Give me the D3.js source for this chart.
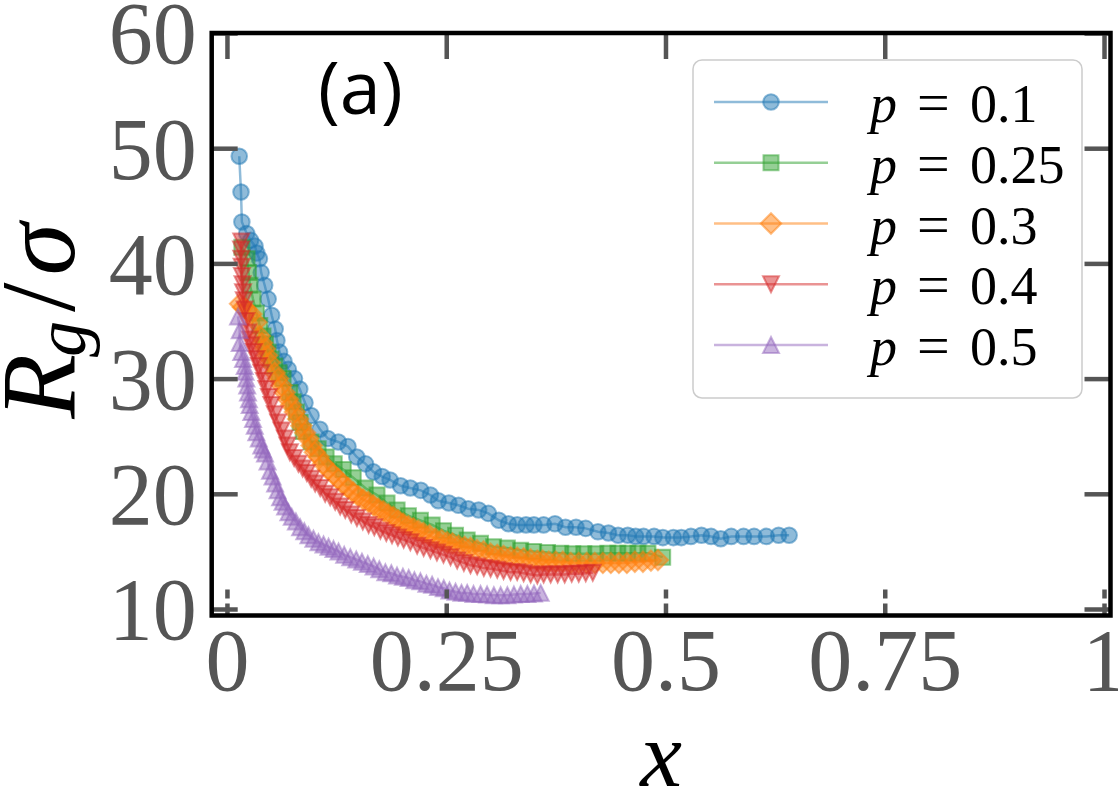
<!DOCTYPE html>
<html>
<head>
<meta charset="utf-8">
<script src="https://cdn.jsdelivr.net/npm/d3@7"></script>
<style>
  html, body { margin: 0; padding: 0; background: #fff; }
  svg { display: block; }
</style>
</head>
<body>
<svg id="chart" width="1118" height="790"></svg>
<script>
// ---------------- data ----------------
const xTickVals = [0, 0.25, 0.5, 0.75, 1];
const xTickLabels = ["0", "0.25", "0.5", "0.75", "1"];
const yTickVals = [10, 20, 30, 40, 50, 60];
const yTickLabels = ["10", "20", "30", "40", "50", "60"];

const seriesLabels = ["0.1", "0.25", "0.3", "0.4", "0.5"];

const xP01 = [0.014,0.016,0.017,0.0225,0.027,0.032,0.034,0.037,0.039,0.043,0.047,0.051,0.055,0.057,0.060,0.065,0.070,0.077,0.083,0.089,0.096,0.106,0.115,0.127,0.138,0.148,0.158,0.167,0.177,0.186,0.198,0.209,0.221,0.232,0.241,0.253,0.264,0.275,0.287,0.298,0.310,0.321,0.331,0.341,0.350,0.361,0.374,0.386,0.398,0.409,0.423,0.435,0.446,0.457,0.466,0.475,0.487,0.497,0.509,0.518,0.529,0.541,0.552,0.563,0.575,0.589,0.601,0.615,0.629,0.641];
const yP01 = [49.3,46.2,43.6,42.6,42.0,41.5,40.9,40.4,39.2,38.1,36.9,35.5,34.3,33.3,32.3,31.5,30.8,30.0,29.1,27.9,26.8,25.6,24.8,24.5,24.1,23.2,22.6,21.9,21.5,21.2,20.7,20.5,20.3,19.9,19.4,19.2,19.0,18.7,18.6,18.3,17.7,17.4,17.3,17.3,17.3,17.3,17.4,17.1,17.1,17.0,16.7,16.6,16.4,16.4,16.3,16.3,16.3,16.2,16.2,16.2,16.3,16.4,16.3,16.1,16.3,16.3,16.3,16.3,16.4,16.4];

const xP025 = [0.017,0.0229,0.0246,0.0263,0.0297,0.0335,0.0374,0.0411,0.044,0.0469,0.0503,0.0545,0.0594,0.064,0.0717,0.0754,0.0792,0.0834,0.0869,0.096,0.104,0.1131,0.1223,0.1326,0.144,0.1577,0.1711,0.1825,0.194,0.2069,0.2206,0.234,0.2469,0.2606,0.2739,0.2891,0.304,0.3197,0.3349,0.3497,0.3654,0.3806,0.3943,0.4069,0.4206,0.4343,0.4457,0.4571,0.4686,0.48,0.4968];
const yP025 = [41.4,40.4,39.2,38.1,36.9,35.7,34.6,33.7,33.0,32.3,31.7,31.1,30.5,30.0,28.8,28.0,27.1,26.2,25.4,24.5,23.9,23.2,22.6,22.1,21.4,20.5,19.9,19.2,18.6,18.1,17.7,17.3,16.8,16.4,16.0,15.7,15.4,15.3,15.1,15.0,14.9,14.85,14.8,14.8,14.8,14.85,14.85,14.85,14.85,14.85,14.5];

const xP03 = [0.0149,0.0183,0.0221,0.0278,0.0335,0.0374,0.04,0.0431,0.0457,0.0488,0.0545,0.0583,0.0621,0.0657,0.0697,0.0731,0.0774,0.0811,0.0849,0.0891,0.0926,0.0966,0.1002,0.1046,0.1097,0.1154,0.1211,0.1269,0.1326,0.1383,0.144,0.1497,0.1554,0.1611,0.1669,0.1726,0.1783,0.184,0.1897,0.1954,0.2011,0.2069,0.2126,0.2183,0.224,0.2309,0.2377,0.2446,0.2511,0.2571,0.264,0.2709,0.2777,0.2851,0.2926,0.3006,0.3082,0.3154,0.3234,0.3309,0.3383,0.3463,0.3539,0.36,0.3669,0.3749,0.3829,0.392,0.4011,0.4103,0.4194,0.4286,0.4377,0.4469,0.456,0.4651,0.4743,0.4834,0.4914];
const yP03 = [36.5,36.2,36.0,35.6,34.9,33.7,33.1,32.6,32.0,31.4,30.5,30.0,29.4,28.8,28.2,27.7,27.1,26.5,25.9,25.3,24.8,24.2,23.6,23.2,22.6,22.1,21.7,21.3,20.8,20.5,20.1,19.8,19.5,19.3,19.0,18.7,18.5,18.2,18.0,17.7,17.4,17.2,17.0,16.8,16.6,16.4,16.1,16.0,15.8,15.7,15.5,15.4,15.3,15.1,15.0,14.8,14.7,14.6,14.5,14.46,14.4,14.3,14.2,14.2,14.1,14.1,14.1,14.0,14.0,14.0,14.0,14.0,14.0,14.0,14.0,14.1,14.1,14.2,14.25];

const xP04 = [0.0163,0.016,0.0163,0.0167,0.0171,0.0177,0.0183,0.0192,0.0202,0.0221,0.024,0.0259,0.0278,0.0306,0.0335,0.0363,0.0392,0.0421,0.0449,0.0478,0.0506,0.0545,0.0583,0.0621,0.0659,0.0688,0.0717,0.0766,0.0815,0.0863,0.0911,0.096,0.1006,0.1063,0.112,0.1177,0.1234,0.1291,0.1349,0.1417,0.1482,0.1549,0.1615,0.168,0.1749,0.1817,0.1882,0.1949,0.2015,0.2091,0.2168,0.2243,0.232,0.2394,0.2469,0.2549,0.2625,0.2701,0.2777,0.2853,0.2929,0.3006,0.3082,0.3154,0.3234,0.3309,0.3383,0.3463,0.3539,0.3611,0.3691,0.3771,0.3851,0.3931,0.4011,0.4091,0.4171];
const yP04 = [41.9,41.2,40.4,39.7,38.9,38.2,37.5,36.8,36.0,35.0,34.0,33.4,32.9,32.3,31.7,31.1,30.5,29.8,29.1,28.4,27.7,26.9,26.2,25.5,24.8,24.2,23.6,23.1,22.6,22.2,21.8,21.3,20.9,20.5,20.0,19.7,19.3,18.9,18.6,18.2,17.9,17.6,17.3,17.1,16.8,16.6,16.4,16.2,16.0,15.8,15.5,15.3,15.1,14.9,14.7,14.5,14.2,14.0,13.8,13.7,13.55,13.5,13.4,13.3,13.2,13.2,13.1,13.0,12.9,13.0,13.0,13.0,13.0,13.05,13.05,13.1,13.15];

const xP05 = [0.0126,0.0145,0.0145,0.0163,0.0183,0.0202,0.0211,0.0221,0.0231,0.024,0.0251,0.0259,0.0278,0.0297,0.0317,0.0335,0.0363,0.0392,0.0411,0.0434,0.0463,0.0491,0.052,0.0549,0.0577,0.0606,0.0634,0.0663,0.0701,0.0739,0.0786,0.0834,0.0882,0.0929,0.0986,0.1043,0.1101,0.1158,0.1215,0.1272,0.1337,0.1406,0.1474,0.1539,0.1606,0.1672,0.1737,0.1806,0.1874,0.1939,0.2006,0.2072,0.2137,0.2206,0.2274,0.2339,0.2406,0.2472,0.2537,0.2606,0.2674,0.2739,0.2811,0.2891,0.2966,0.3043,0.312,0.3197,0.3272,0.3349,0.3425,0.3501,0.3577];
const yP05 = [35.4,34.2,33.1,32.3,31.7,31.1,30.6,30.0,29.4,28.8,28.2,27.7,27.1,26.5,25.9,25.35,24.8,24.2,23.85,23.5,22.8,22.0,21.5,20.9,20.3,19.7,19.3,18.9,18.4,18.0,17.6,17.1,16.75,16.4,16.1,15.8,15.6,15.4,15.2,15.0,14.7,14.5,14.3,14.1,13.9,13.7,13.45,13.2,13.1,12.9,12.8,12.7,12.5,12.4,12.2,12.1,11.9,11.8,11.6,11.5,11.4,11.4,11.3,11.3,11.25,11.2,11.2,11.2,11.25,11.3,11.3,11.35,11.4];

// ---------------- styles / layout ----------------
const colors = ["#1f77b4", "#2ca02c", "#ff7f0e", "#d62728", "#9467bd"];
const shapes = ["circle", "square", "diamond", "triDown", "triUp"];
const xsAll = [xP01, xP025, xP03, xP04, xP05];
const ysAll = [yP01, yP025, yP03, yP04, yP05];

const L = 211.7, R = 1110.5, T = 33, B = 615.5;
const serif = "'Liberation Serif', 'Times New Roman', serif";
const tickGray = "#555555";

const svg = d3.select("#chart");
const x = d3.scaleLinear().domain([-0.0174, 1.0074]).range([L, R]);
const y = d3.scaleLinear().domain([9.436, 60]).range([B, T]);

// isoceles triangle (width == height), as matplotlib draws it
const triType = { draw(ctx, size) { const r = Math.sqrt(size) / 2; ctx.moveTo(0, -r); ctx.lineTo(r, r); ctx.lineTo(-r, r); ctx.closePath(); } };

function markerPath(shape) {
  if (shape === "circle") return d3.symbol(d3.symbolCircle, Math.PI * 7.8 * 7.8)();
  if (shape === "square") return d3.symbol(d3.symbolSquare, 15 * 15)();
  if (shape === "diamond") return d3.symbol(d3.symbolSquare, 14.5 * 14.5)();
  return d3.symbol(triType, 16 * 16)();
}
function markerTransform(shape, px, py) {
  if (shape === "diamond") return `translate(${px},${py}) rotate(45)`;
  if (shape === "triDown") return `translate(${px},${py}) rotate(180)`;
  return `translate(${px},${py})`;
}

// ---------------- series ----------------
const plot = svg.append("g").attr("class", "plot");
const line = d3.line().x(d => x(d[0])).y(d => y(d[1]));
xsAll.forEach((xs, si) => {
  const pts = xs.map((v, i) => [v, ysAll[si][i]]);
  const g = plot.append("g");
  g.append("path").attr("d", line(pts)).attr("fill", "none")
    .attr("stroke", colors[si]).attr("stroke-opacity", 0.5).attr("stroke-width", 2.5);
  g.selectAll("path.m").data(pts).enter().append("path").attr("class", "m")
    .attr("d", markerPath(shapes[si]))
    .attr("transform", d => markerTransform(shapes[si], x(d[0]), y(d[1])))
    .attr("fill", colors[si]).attr("fill-opacity", 0.5)
    .attr("stroke", colors[si]).attr("stroke-opacity", 0.5).attr("stroke-width", 2);
});

// ---------------- axes (inward ticks) ----------------
function styleAxis(g) {
  g.select(".domain").remove();
  g.selectAll(".tick line").attr("stroke", tickGray).attr("stroke-width", 4.5);
  g.selectAll(".tick text").attr("fill", tickGray).attr("font-family", serif).attr("font-size", 88);
}
const gB = svg.append("g").attr("transform", `translate(0,${B})`)
  .call(d3.axisBottom(x).tickValues(xTickVals).tickFormat((d, i) => xTickLabels[i]).tickSize(-26).tickPadding(0));
styleAxis(gB);
gB.selectAll(".tick text").attr("y", 74).attr("dy", null);
gB.selectAll(".tick line").attr("stroke-dasharray", "12,5");

const gT = svg.append("g").attr("transform", `translate(0,${T})`)
  .call(d3.axisTop(x).tickValues(xTickVals).tickFormat("").tickSize(-26));
styleAxis(gT);

const gL = svg.append("g").attr("transform", `translate(${L},0)`)
  .call(d3.axisLeft(y).tickValues(yTickVals).tickFormat((d, i) => yTickLabels[i]).tickSize(-26).tickPadding(15));
styleAxis(gL);
gL.selectAll(".tick text").attr("dy", "0.34em");

const gR = svg.append("g").attr("transform", `translate(${R},0)`)
  .call(d3.axisRight(y).tickValues(yTickVals).tickFormat("").tickSize(-26));
styleAxis(gR);

// frame
svg.append("rect").attr("x", L).attr("y", T).attr("width", R - L).attr("height", B - T)
  .attr("fill", "none").attr("stroke", "#000").attr("stroke-width", 4.5);

// ---------------- axis labels ----------------
const yl = svg.append("text").attr("transform", "translate(74,321) rotate(-90)")
  .attr("text-anchor", "middle").attr("font-family", serif).attr("font-size", 106).attr("fill", "#000");
yl.append("tspan").attr("font-style", "italic").text("R");
yl.append("tspan").attr("font-style", "italic").attr("font-size", 72).attr("dy", 11).attr("dx", -3).text("g");
yl.append("tspan").attr("dy", -11).attr("dx", 9).text("/");
yl.append("tspan").attr("font-style", "italic").attr("dx", 7).text("σ");

svg.append("text").attr("x", (L + R) / 2).attr("y", 786).attr("text-anchor", "middle")
  .attr("font-family", serif).attr("font-style", "italic").attr("font-size", 94).attr("fill", "#000").text("x");

// panel label
svg.append("text").attr("x", 318).attr("y", 114)
  .attr("font-family", "'Open Sans', 'Noto Sans', sans-serif").attr("font-size", 74).attr("fill", "#000").text("(a)");

// ---------------- legend ----------------
const lg = svg.append("g");
lg.append("rect").attr("x", 693).attr("y", 60).attr("width", 389).attr("height", 338).attr("rx", 9)
  .attr("fill", "#fff").attr("fill-opacity", 0.8).attr("stroke", "#cccccc").attr("stroke-width", 1.5);
seriesLabels.forEach((lab, i) => {
  const ry = 102 + i * 60.75;
  const g = lg.append("g");
  g.append("line").attr("x1", 714).attr("x2", 828).attr("y1", ry).attr("y2", ry)
    .attr("stroke", colors[i]).attr("stroke-opacity", 0.5).attr("stroke-width", 2.7);
  g.append("path").attr("d", markerPath(shapes[i]))
    .attr("transform", markerTransform(shapes[i], 771, ry))
    .attr("fill", colors[i]).attr("fill-opacity", 0.5)
    .attr("stroke", colors[i]).attr("stroke-opacity", 0.5).attr("stroke-width", 2);
  g.append("text").attr("x", 870).attr("y", ry + 20).attr("font-family", serif).attr("font-size", 54)
    .attr("font-style", "italic").attr("fill", "#000").text("p");
  g.append("text").attr("x", 917).attr("y", ry + 20).attr("font-family", serif).attr("font-size", 58)
    .attr("fill", "#000").text("=");
  g.append("text").attr("x", 970).attr("y", ry + 20).attr("font-family", serif).attr("font-size", 54)
    .attr("fill", "#000").text(lab);
});
</script>
</body>
</html>
